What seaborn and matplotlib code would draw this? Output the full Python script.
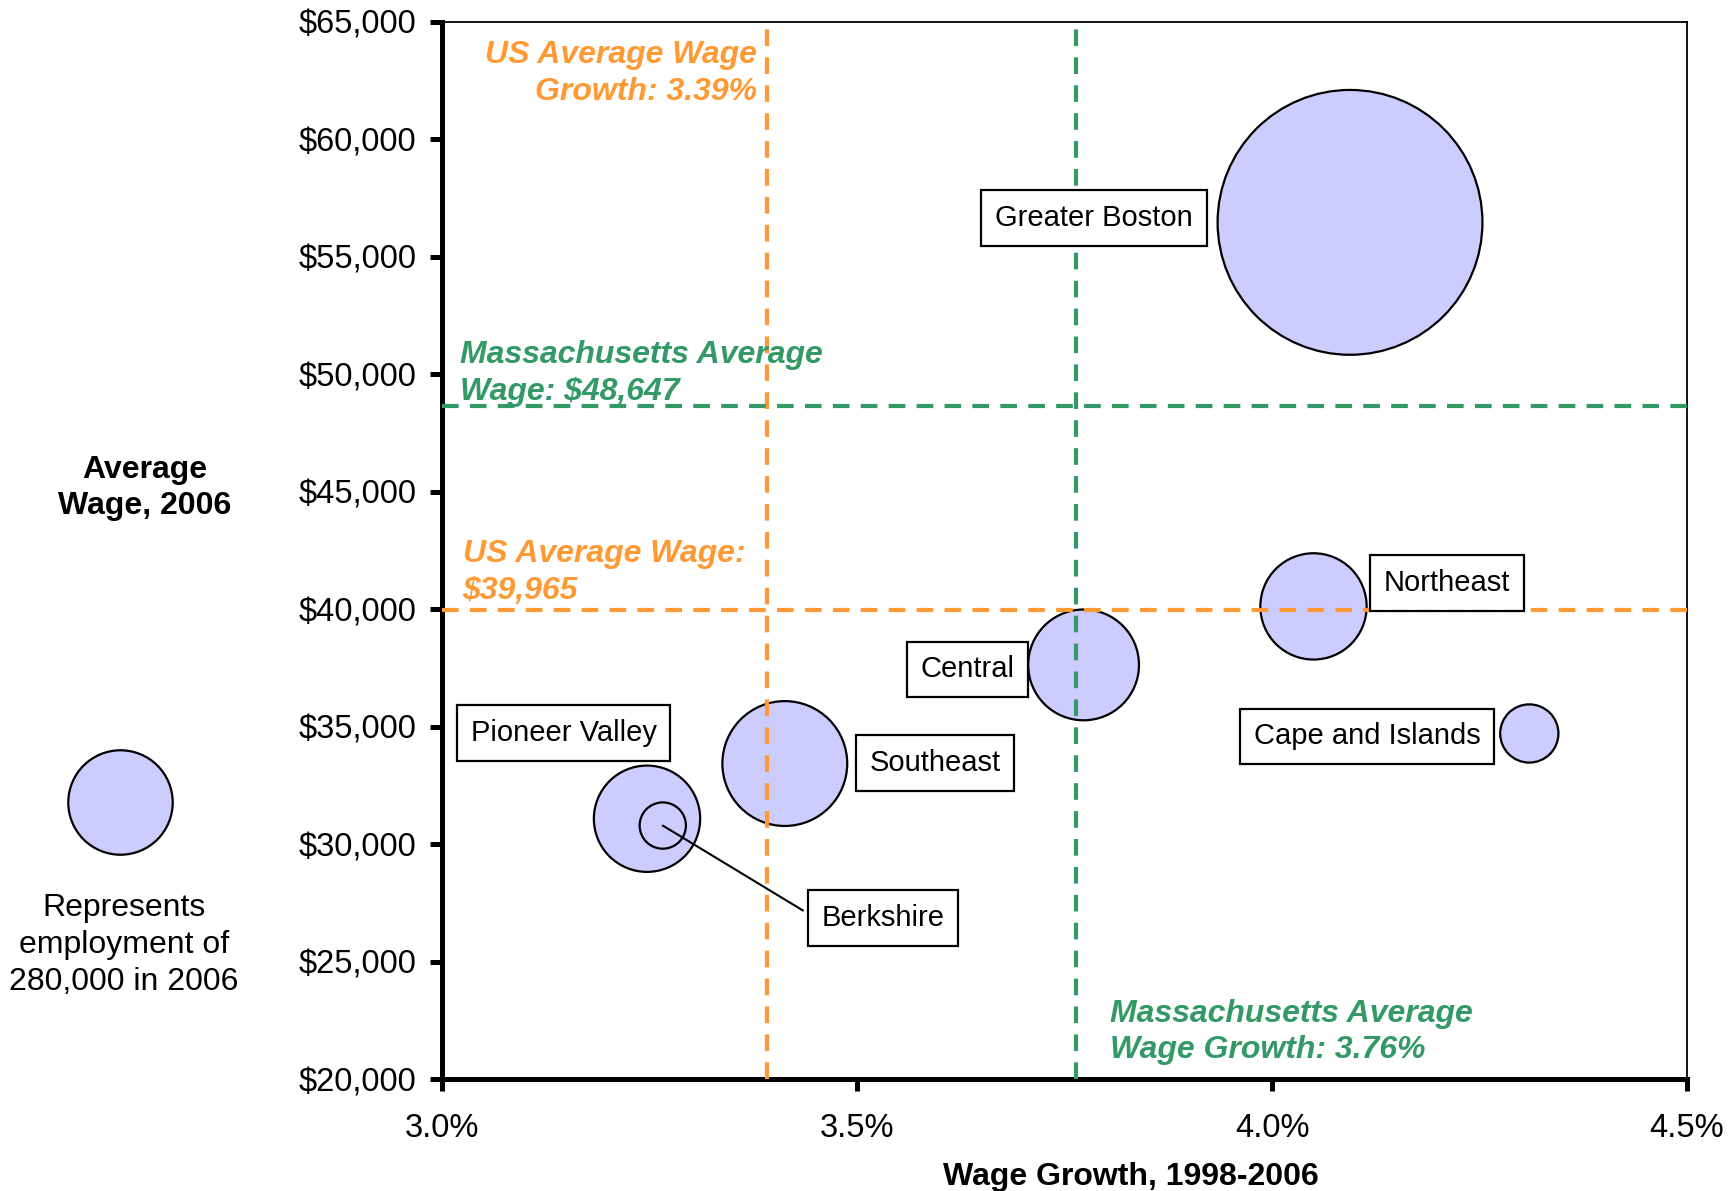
import numpy as np
import pandas as pd
import matplotlib
matplotlib.use("Agg")
import matplotlib.pyplot as plt
import seaborn as sns

# ---------------- data ----------------
regions = ["Greater Boston", "Northeast", "Central", "Cape and Islands",
           "Southeast", "Pioneer Valley", "Berkshire"]
wage_growth = [4.094, 4.050, 3.773, 4.310, 3.413, 3.247, 3.266]          # %
avg_wage = [56470, 40120, 37630, 34710, 33430, 31080, 30790]             # $
employment = [1800000, 290000, 315000, 87000, 400000, 290000, 55000]

us_avg_growth = 3.391
ma_avg_growth = 3.764
us_avg_wage = 39965
ma_avg_wage = 48647
legend_employment = 280000

x_ticks = [3.0, 3.5, 4.0, 4.5]
x_tick_labels = ["3.0%", "3.5%", "4.0%", "4.5%"]
y_ticks = [20000, 25000, 30000, 35000, 40000, 45000, 50000, 55000, 60000, 65000]
y_tick_labels = ["$20,000", "$25,000", "$30,000", "$35,000", "$40,000",
                 "$45,000", "$50,000", "$55,000", "$60,000", "$65,000"]

df = pd.DataFrame({"region": regions, "growth": wage_growth,
                   "wage": avg_wage, "emp": employment})

# ---------------- style ----------------
sns.set_style("white")
plt.rcParams["font.family"] = ["Liberation Sans", "DejaVu Sans"]
for k in ["text.color", "axes.labelcolor", "xtick.color", "ytick.color"]:
    plt.rcParams[k] = "black"

ORANGE = "#FF9933"
GREEN = "#339966"
BUBBLE = "#CCCCFF"

W, H, DPI = 1735, 1191, 100
fig = plt.figure(figsize=(W / DPI, H / DPI), dpi=DPI)
ax = fig.add_axes([442 / W, 1 - 1079 / H, (1687 - 442) / W, (1079 - 22) / H])

# marker area (pt^2) proportional to employment
K = 0.0202
EMAX = max(employment)
size_kws = dict(sizes=(0, K * EMAX), size_norm=(0, EMAX))

sns.scatterplot(data=df, x="growth", y="wage", size="emp", ax=ax,
                color=BUBBLE, edgecolor="black", linewidth=1.6,
                alpha=1, legend=False, zorder=2, **size_kws)

ax.set_xlim(3.0, 4.5)
ax.set_ylim(20000, 65000)

# reference lines
dash = (4.0, 2.7)
LW = 3.0
ax.axvline(us_avg_growth, ymax=0.995, color=ORANGE, lw=LW, dashes=dash, zorder=3)
ax.axvline(ma_avg_growth, ymax=0.995, color=GREEN, lw=LW, dashes=dash, zorder=3)
ax.axhline(ma_avg_wage, color=GREEN, lw=LW, dashes=dash, zorder=3)
ax.axhline(us_avg_wage, color=ORANGE, lw=LW, dashes=dash, zorder=3, xmax=1.004, clip_on=False)

ref_kw = dict(fontsize=23, fontweight="bold", fontstyle="italic", va="center",
              linespacing=1.3, zorder=5)
ax.text(3.3795, 62800, "US Average Wage\nGrowth: 3.39%", color=ORANGE,
        ha="right", multialignment="right", **ref_kw)
ax.text(3.0217, 50050, "Massachusetts Average\nWage: $48,647", color=GREEN,
        ha="left", **ref_kw)
ax.text(3.0247, 41560, "US Average Wage:\n$39,965", color=ORANGE,
        ha="left", **ref_kw)
ax.text(3.8048, 22000, "Massachusetts Average\nWage Growth: 3.76%", color=GREEN,
        ha="left", **ref_kw)

# region labels
label_pos = {
    "Greater Boston": (3.7855, 56650),
    "Northeast": (4.2108, 41110),
    "Central": (3.6333, 37436),
    "Cape and Islands": (4.1145, 34584),
    "Southeast": (3.5940, 33456),
    "Pioneer Valley": (3.1467, 34724),
    "Berkshire": (3.5313, 26861),
}
box = dict(boxstyle="square,pad=0.47", fc="white", ec="black", lw=1.6)
for name, (lx, ly) in label_pos.items():
    ax.text(lx, ly, name, fontsize=21, ha="center", va="center",
            bbox=box, zorder=6)

# Berkshire leader line
bi = regions.index("Berkshire")
ax.plot([wage_growth[bi], 3.435], [avg_wage[bi], 27171], color="black",
        lw=1.5, zorder=4)

# ticks & spines
ax.set_xticks(x_ticks)
ax.set_xticklabels(x_tick_labels)
ax.set_yticks(y_ticks)
ax.set_yticklabels(y_tick_labels)
ax.tick_params(axis="both", labelsize=23.5, colors="black", length=8.5, width=3.6,
               direction="out")
ax.tick_params(axis="y", pad=10, left=True)
ax.tick_params(axis="x", pad=16, bottom=True)
ax.set_xlabel("")
ax.set_ylabel("")
for s in ["left", "bottom"]:
    ax.spines[s].set_linewidth(3.6)
    ax.spines[s].set_color("black")
for s in ["top", "right"]:
    ax.spines[s].set_linewidth(1.3)
    ax.spines[s].set_color("black")
    ax.spines[s].set_visible(True)

# axis titles
fig.text(1131 / W, 1 - 1177 / H, "Wage Growth, 1998-2006", fontsize=23,
         fontweight="bold", ha="center", va="center")
fig.text(145 / W, 1 - 488 / H, "Average\nWage, 2006", fontsize=23,
         fontweight="bold", ha="center", va="center", multialignment="center",
         linespacing=1.3)

# size legend bubble (same size scale)
lax = fig.add_axes([0, 0, 1, 1], zorder=-1)
lax.set_xlim(0, W)
lax.set_ylim(H, 0)
lax.axis("off")
sns.scatterplot(x=[119.5], y=[802], size=[legend_employment], ax=lax,
                color=BUBBLE, edgecolor="black", linewidth=1.6, alpha=1,
                legend=False, **size_kws)
lax.set_xlim(0, W)
lax.set_ylim(H, 0)
fig.text(124 / W, 1 - 945 / H, "Represents\nemployment of\n280,000 in 2006",
         fontsize=23, ha="center", va="center", multialignment="center",
         linespacing=1.3)

fig.savefig("out.png", dpi=DPI)
